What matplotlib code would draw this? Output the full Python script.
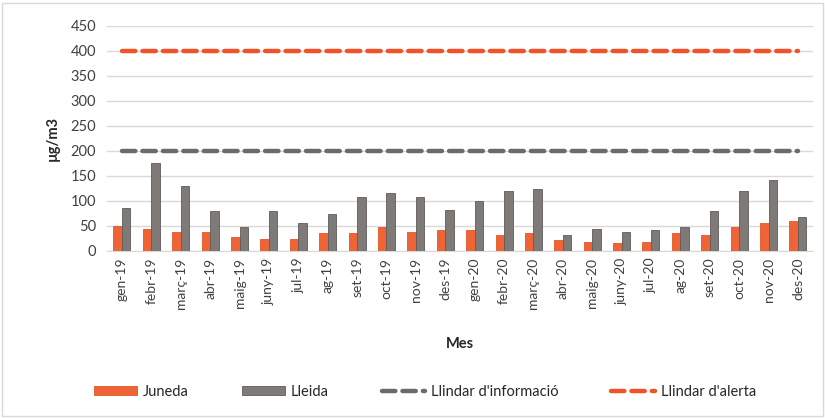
import matplotlib
matplotlib.use("Agg")
import matplotlib.pyplot as plt
import numpy as np
from matplotlib.patches import Rectangle

months = ["gen-19", "febr-19", "març-19", "abr-19", "maig-19", "juny-19", "jul-19", "ag-19",
          "set-19", "oct-19", "nov-19", "des-19", "gen-20", "febr-20", "març-20", "abr-20",
          "maig-20", "juny-20", "jul-20", "ag-20", "set-20", "oct-20", "nov-20", "des-20"]
juneda = [50, 44, 38, 38, 27, 23, 23, 35, 35, 47, 38, 41, 41, 32, 35, 21, 17, 15, 17, 35, 32, 47, 55, 59]
lleida = [85, 175, 129, 79, 47, 79, 55, 73, 108, 115, 108, 82, 99, 120, 123, 32, 44, 38, 41, 47, 79, 120, 141, 67]
info_threshold = 200
alert_threshold = 400

plt.rcParams["font.family"] = ["Lato", "DejaVu Sans"]

fig = plt.figure(figsize=(8.25, 4.18), dpi=100)
ax = fig.add_axes([0.13, 0.40, 0.855, 0.538])

orange = "#EE6436"
grey = "#7E7A77"
x = np.arange(len(months))
w = 0.29
b1 = ax.bar(x - w / 2, juneda, width=w, color=orange, edgecolor="#E2552A", linewidth=0.6, label="Juneda", zorder=3)
b2 = ax.bar(x + w / 2, lleida, width=w, color=grey, edgecolor="#5F5B58", linewidth=0.6, label="Lleida", zorder=3)
l1, = ax.plot(x, [info_threshold] * len(x), color="#6E6A67", lw=3.2, dashes=(3, 1.6),
              dash_capstyle="round", label="Llindar d'informació", zorder=4)
l2, = ax.plot(x, [alert_threshold] * len(x), color="#F0532A", lw=3.2, dashes=(3, 1.6),
              dash_capstyle="round", label="Llindar d'alerta", zorder=4)

ax.set_xlim(-0.5, len(months) - 0.5)
ax.set_ylim(0, 450)
ax.set_yticks(np.arange(0, 451, 50))
ax.yaxis.grid(True, color="#D9D9D9", lw=1, zorder=0)
ax.set_xticks(x)
ax.set_xticklabels(months, rotation=90, fontsize=10, color="#404040")
ax.tick_params(axis="y", labelsize=10.5, colors="#404040", length=0, pad=8)
ax.tick_params(axis="x", length=0, pad=5)
for s in ["top", "right", "left"]:
    ax.spines[s].set_visible(False)
ax.spines["bottom"].set_color("#D9D9D9")
ax.set_ylabel("µg/m3", fontsize=10.5, fontweight="bold", color="#262626", labelpad=8)
ax.set_xlabel("Mes", fontsize=10.5, fontweight="bold", color="#262626", labelpad=20)

fig.legend([b1, b2, l1, l2], [b1.get_label(), b2.get_label(), l1.get_label(), l2.get_label()],
           loc="center", bbox_to_anchor=(0.515, 0.063), ncol=4, frameon=False,
           fontsize=10.5, handlelength=3.0, handleheight=0.6, columnspacing=3.6, handletextpad=0.4,
           labelcolor="#262626")

fig.patches.append(Rectangle((0.003, 0.004), 0.994, 0.99, transform=fig.transFigure,
                             fill=False, edgecolor="#D9D9D9", lw=1))

fig.savefig("out.png", dpi=100, facecolor="white")
